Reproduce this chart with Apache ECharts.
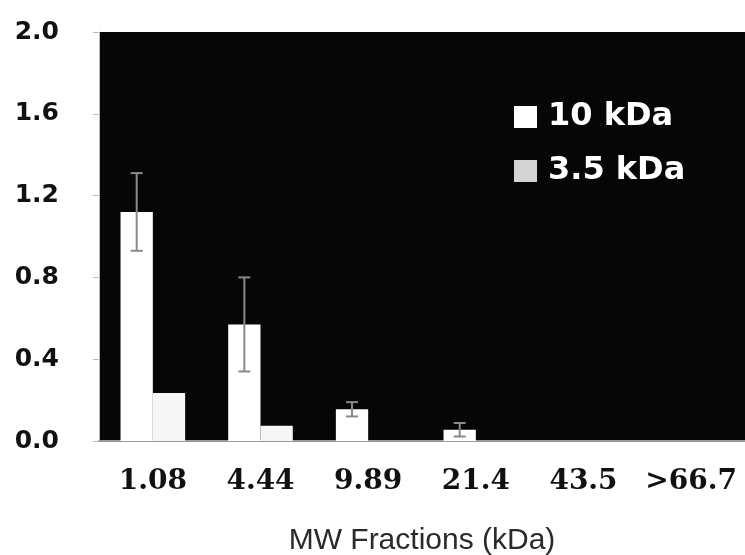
<!DOCTYPE html>
<html>
<head>
<meta charset="utf-8">
<script src="https://cdn.jsdelivr.net/npm/echarts@6/dist/echarts.min.js"></script>
<style>html,body{margin:0;padding:0;background:#fff;}#c{width:745px;height:555px;}</style>
</head>
<body>
<div id="c"></div>
<script>
var categories = ['1.08', '4.44', '9.89', '21.4', '43.5', '>66.7'];
var values10 = [1.12, 0.57, 0.155, 0.055, 0, 0];
var values35 = [0.235, 0.075, 0, 0, 0, 0];
var errors10 = [0.19, 0.23, 0.035, 0.033, null, null];
var yTicks = [0, 0.4, 0.8, 1.2, 1.6, 2.0];

var chart = echarts.init(document.getElementById('c'), null, {renderer: 'canvas'});
var errData = [];
for (var i = 0; i < categories.length; i++) {
  if (errors10[i] != null) errData.push([i, values10[i], errors10[i]]);
}
var option = {
  backgroundColor: '#ffffff',
  animation: false,
  grid: {left: 99, right: 0, top: 32, bottom: 114, show: true, backgroundColor: '#060606', borderWidth: 0,
    containLabel: false, outerBoundsMode: 'none'},
  legend: {
    orient: 'vertical', left: 509, top: 96, itemWidth: 23, itemHeight: 22, itemGap: 22,
    textStyle: {color: '#ffffff', fontFamily: 'DejaVu Sans', fontWeight: 'bold', fontSize: 32, lineHeight: 32,
      padding: [0, 0, 0, 6]},
    data: [
      {name: '10 kDa', icon: 'rect', itemStyle: {color: '#ffffff'}},
      {name: '3.5 kDa', icon: 'rect', itemStyle: {color: '#d4d4d4'}}
    ]
  },
  xAxis: {
    type: 'category', data: categories,
    name: 'MW Fractions (kDa)', nameLocation: 'middle', nameGap: 85,
    nameTextStyle: {fontFamily: 'Liberation Sans', fontSize: 30, color: '#2a2a2a'},
    axisLine: {show: true, lineStyle: {color: '#9a9a9a', width: 2}},
    axisTick: {show: false},
    axisLabel: {interval: 0, margin: 27, fontFamily: 'DejaVu Serif', fontWeight: 'bold', fontSize: 28, color: '#111'}
  },
  yAxis: {
    type: 'value', min: 0, max: 2, interval: 0.4,
    axisLine: {show: true, lineStyle: {color: '#bbbbbb', width: 1}},
    axisTick: {show: true, length: 6, lineStyle: {color: '#bbbbbb'}},
    splitLine: {show: false},
    axisLabel: {margin: 40, fontFamily: 'DejaVu Sans', fontWeight: 'bold', fontSize: 25, color: '#111',
      formatter: function (v) { return v.toFixed(1); }}
  },
  series: [
    {name: '10 kDa', type: 'bar', data: values10, barWidth: '30%', barGap: '0%', itemStyle: {color: '#ffffff'}},
    {name: '3.5 kDa', type: 'bar', data: values35, barWidth: '30%', barGap: '0%', itemStyle: {color: '#f6f6f6'}},
    {
      name: 'err', type: 'custom', data: errData, z: 10,
      renderItem: function (params, api) {
        var idx = api.value(0), v = api.value(1), e = api.value(2);
        var band = api.size([1, 0])[0];
        var off = -band * 0.15;
        var top = api.coord([idx, v + e]);
        var bot = api.coord([idx, v - e]);
        var x = top[0] + off;
        var cw = 6;
        var st = {stroke: '#8a8a8a', lineWidth: 2};
        return {type: 'group', children: [
          {type: 'line', shape: {x1: x, y1: top[1], x2: x, y2: bot[1]}, style: st},
          {type: 'line', shape: {x1: x - cw, y1: top[1], x2: x + cw, y2: top[1]}, style: st},
          {type: 'line', shape: {x1: x - cw, y1: bot[1], x2: x + cw, y2: bot[1]}, style: st}
        ]};
      }
    }
  ]
};
chart.setOption(option);
</script>
</body>
</html>
